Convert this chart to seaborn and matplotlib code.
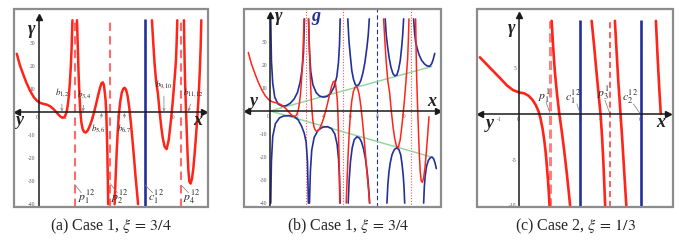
import numpy as np
import pandas as pd
import matplotlib
matplotlib.use('Agg')
import matplotlib.pyplot as plt
import seaborn as sns
from matplotlib.patches import Rectangle

# ---- gamma(x), case 1, xi = 3/4 (panels a and b), one list per branch ----
gam_x1 = [-1.63, -1.4, -1.12, -0.87, -0.62, -0.35, -0.1, 0.15, 0.4, 0.62, 0.87, 1.12,
          1.37, 1.62, 1.8, 1.95, 2.05, 2.12, 2.2, 2.28, 2.35, 2.42, 2.48, 2.54]
gam_y1 = [25.4, 20.5, 16.0, 12.3, 9.2, 6.5, 4.9, 4.0, 3.6, 3.3, 2.6, 1.4,
          -0.2, -1.8, -2.4, -2.0, -0.8, 0.5, 3.5, 7.5, 13, 20, 28, 40]
gam_x2 = [2.88, 2.95, 3.0, 3.05, 3.12, 3.2, 3.3, 3.42, 3.55, 3.7, 3.85, 4.0, 4.15,
          4.3, 4.45, 4.6, 4.72, 4.82, 4.9, 4.97, 5.03, 5.08, 5.12, 5.16, 5.19, 5.22]
gam_y2 = [40, 27, 17, 9.4, 1.5, -4, -7.2, -8.6, -8.8, -7.8, -5.8, -3.4, -0.3,
          3.2, 7, 10.5, 12.6, 13, 11.8, 8.5, 5, -1, -9, -18, -28, -40]
gam_x3 = [5.7, 5.78, 5.86, 5.94, 6.02, 6.12, 6.24, 6.36, 6.46, 6.56, 6.68, 6.8,
          6.92, 7.04, 7.16, 7.28, 7.4, 7.46]
gam_y3 = [-40, -28, -17, -8, -1, 4.5, 8.5, 10.3, 10.6, 9.8, 7, 2,
          -4.5, -12, -20, -28.5, -36, -40]
gam_x4 = [8.5, 8.6, 8.7, 8.82, 8.95, 9.07, 9.2, 9.32, 9.45, 9.6, 9.75, 9.85, 9.95,
          10.05, 10.15, 10.23, 10.3, 10.35, 10.4]
gam_y4 = [40, 30, 21, 13, 8, 0.5, -6.5, -11.5, -15, -16, -12.3, -7.5, -2,
          4, 11, 17, 22.5, 30, 40]
gam_x5 = [10.9, 10.94, 10.98, 11.04, 11.1, 11.17, 11.24, 11.31, 11.4, 11.5, 11.6,
          11.7, 11.8, 11.9, 12.0, 12.08, 12.15, 12.2]
gam_y5 = [40, 25, 14, 3, -7, -18, -26, -30.2, -31, -29, -24.5,
          -18, -10.5, -2.5, 7, 17, 28, 40]

# ---- g (upper) and -g (lower) branches, panel b ----
gu_x1 = [0.05, 0.1, 0.2, 0.35, 0.6, 0.9, 1.2, 1.5, 1.8, 2.05, 2.25, 2.4, 2.5, 2.58]
gu_y1 = [40, 22, 12, 6, 3, 2.1, 2.3, 3.3, 5.2, 8, 12.5, 18, 25, 40]
gu_x2 = [2.88, 2.95, 3.05, 3.2, 3.45, 3.7, 4.0, 4.3, 4.55, 4.8, 5.0, 5.12, 5.2, 5.25]
gu_y2 = [40, 26, 17, 11.5, 8, 6.5, 6, 6.4, 7.8, 10.5, 15, 21, 29, 40]
gu_x3 = [5.82, 5.9, 6.0, 6.12, 6.25, 6.38, 6.5, 6.65, 6.8, 6.95, 7.1, 7.25, 7.35, 7.43]
gu_y3 = [40, 31, 24.5, 17.5, 13.7, 11.5, 10.9, 11.5, 13.3, 16.5, 21, 27.5, 33, 40]
gu_x4 = [8.62, 8.7, 8.8, 8.92, 9.05, 9.2, 9.35, 9.5, 9.62, 9.75, 9.85, 9.93, 10.0]
gu_y4 = [40, 33, 28, 23, 19, 16.2, 15.2, 15.7, 18, 22, 27.5, 33, 40]
gu_x5 = [10.75, 10.82, 10.9, 11.0, 11.15, 11.35, 11.55, 11.75, 11.95, 12.1, 12.22, 12.33]
gu_y5 = [40, 34, 30, 27.5, 24.5, 22, 20.5, 19.6, 19.4, 20.5, 22.5, 25]

gl_x1 = [0.05, 0.1, 0.2, 0.4, 0.7, 1.0, 1.4, 1.8, 2.1, 2.35, 2.55, 2.7, 2.8, 2.87]
gl_y1 = [-40, -22, -11, -5.5, -3, -2.2, -2, -2.4, -3.8, -6.5, -9.5, -13.5, -22, -40]
gl_x2 = [2.95, 3.02, 3.12, 3.3, 3.6, 3.95, 4.3, 4.6, 4.85, 5.02, 5.13, 5.2, 5.25]
gl_y2 = [-40, -26, -17, -11.5, -8.3, -7, -6.8, -7.6, -10, -14.5, -21, -29, -40]
gl_x3 = [5.85, 5.92, 6.02, 6.15, 6.3, 6.5, 6.7, 6.85, 7.0, 7.15, 7.3, 7.4, 7.45]
gl_y3 = [-40, -30, -22, -16, -12.5, -11.2, -11.8, -13.5, -16.5, -21, -28, -35, -40]
gl_x4 = [8.75, 8.82, 8.9, 9.0, 9.13, 9.3, 9.48, 9.65, 9.78, 9.88, 9.97, 10.03, 10.08]
gl_y4 = [-40, -32, -26.5, -22.5, -19, -16.8, -16, -16.8, -19, -23, -28, -33, -40]
gl_x5 = [11.5, 11.55, 11.62, 11.72, 11.85, 12.0, 12.13, 12.25, 12.35, 12.45]
gl_y5 = [-40, -33, -28, -24, -21.5, -20.3, -20, -20.8, -22.5, -25]

# tangent lines through the origin
tan_x = [0, 12.1]
tan_up = [0, 19.3]
tan_lo = [0, -20.0]

# ---- gamma(x), case 2, xi = 1/3 (panel c) ----
cg_x1 = [-1.95, -1.6, -1.25, -0.9, -0.6, -0.3, 0.0, 0.25, 0.45, 0.65, 0.82, 0.95,
         1.05, 1.15, 1.23, 1.3, 1.36, 1.42, 1.47, 1.5]
cg_y1 = [6.2, 5.4, 4.6, 3.8, 3.1, 2.6, 2.35, 2.25, 2.0, 1.55, 0.95, 0.3,
         -0.5, -1.6, -2.8, -4.1, -5.6, -7.3, -8.9, -10.2]
cg_x2 = [1.6, 1.68, 1.76, 1.87, 1.98, 2.1, 2.22, 2.34, 2.45, 2.52]
cg_y2 = [10.2, 7.2, 4.6, 2.1, 0, -1.9, -4.0, -6.3, -8.6, -10.2]
cg_x3 = [3.58, 3.7, 3.82, 3.93, 4.02, 4.1, 4.16, 4.21, 4.25]
cg_y3 = [10.2, 7.5, 4.6, 2.0, 0, -2.7, -5.3, -7.9, -10.2]
cg_x4 = [4.73, 4.82, 4.9, 5.01, 5.1, 5.19, 5.3]
cg_y4 = [10.2, 6.6, 3.5, 0, -3.0, -6.3, -10.2]
cg_x5 = [6.76, 6.84, 6.92, 7.0]
cg_y5 = [10.2, 6.4, 3.0, 0]

# poles (dashed) and walls (blue)
poles_a = [2.7, 5.37, 10.69]
walls_a = [8.0]
poles_b = [2.7, 5.43, 10.58]
walls_b = [8.0]
poles_c = [1.51, 4.49]
walls_c = [3.0, 6.0]

xticks_ab = [0, 2, 4, 6, 8, 10]
yticks_ab = [30, 20, 10, -10, -20, -30, -40]
xticks_c = [-1, 0, 1, 2, 3, 4, 5, 6]
yticks_c = [5, -5, -10]

captions = ['(a) Case 1, $\\xi\\,=\\,3/4$', '(b) Case 1, $\\xi\\,=\\,3/4$',
            '(c) Case 2, $\\xi\\,=\\,1/3$']

RED = '#ff2418'
BLUE = '#23309a'
GREEN = '#8fd49a'
GREY = '#7a7a7a'
SERIF = ['Liberation Serif', 'DejaVu Serif']


def branches(xs, ys):
    return pd.concat([pd.DataFrame({'x': x, 'y': y, 'seg': i})
                      for i, (x, y) in enumerate(zip(xs, ys))], ignore_index=True)


def draw(ax, df, color, lw):
    sns.lineplot(data=df, x='x', y='y', units='seg', estimator=None,
                 sort=False, color=color, lw=lw, ax=ax, legend=False)
    ax.set(xlabel='', ylabel='')


def setup(ax, xlim, ylim, xticks, yticks, x_ends, y_top):
    ax.set_xlim(xlim)
    ax.set_ylim(ylim)
    for s in ['top', 'right']:
        ax.spines[s].set_visible(False)
    for s in ['left', 'bottom']:
        ax.spines[s].set_position(('data', 0))
        ax.spines[s].set_color('#1a1a1a')
        ax.spines[s].set_linewidth(1.1)
        ax.spines[s].set_zorder(4)
    ax.spines['bottom'].set_bounds(*x_ends)
    ax.spines['left'].set_bounds(ylim[0], y_top)
    ax.set_xticks(xticks, [str(t) for t in xticks])
    ax.set_yticks(yticks, [str(t) for t in yticks])
    for t in ax.get_xticklabels():
        if t.get_text() == '0':
            t.set_horizontalalignment('right')
    ax.tick_params(labelsize=4, length=2, width=0.5, pad=1.2, direction='inout',
                   colors='#555555')
    kw = dict(color='#1a1a1a', ms=5, clip_on=False, zorder=5, ls='none')
    ax.plot([x_ends[1]], [0], marker='>', **kw)
    ax.plot([x_ends[0]], [0], marker='<', **kw)
    ax.plot([0], [y_top], marker='^', **kw)
    ax.add_patch(Rectangle((0, 0), 1, 1, transform=ax.transAxes, fill=False,
                           ec='#8c8c8c', lw=1.6, clip_on=False, zorder=6))


def axis_letters(ax, gam, ylab, xlab):
    kw = dict(fontsize=13, style='italic', weight='bold', ha='center', va='center',
              color='#222222', family=SERIF)
    ax.text(*gam, '\u03b3', **kw)
    ax.text(*ylab, 'y', **kw)
    ax.text(*xlab, 'x', **kw)


def b_label(ax, txt, tx, ty, px, py):
    ax.annotate(txt, xy=(px, py), xytext=(tx, ty), fontsize=6.5, ha='center', va='center',
                arrowprops=dict(arrowstyle='->', color=GREY, lw=0.5, shrinkA=1, shrinkB=0,
                                mutation_scale=4))


def leader(ax, txt, tx, ty, x0, y0, x1, y1, size=8.5):
    ax.plot([x0, x1], [y0, y1], color=GREY, lw=0.5)
    ax.text(tx, ty, txt, fontsize=size, ha='center', va='center')


sns.set_style('white')
plt.rcParams['font.family'] = SERIF
plt.rcParams['mathtext.fontset'] = 'stix'

fig = plt.figure(figsize=(6.79, 2.41), dpi=100)
ax_a = fig.add_axes([0.0206, 0.1411, 0.2857, 0.8216])
ax_b = fig.add_axes([0.3594, 0.1411, 0.2901, 0.8216])
ax_c = fig.add_axes([0.7020, 0.1411, 0.2896, 0.8216])

gam_df = branches([gam_x1, gam_x2, gam_x3, gam_x4, gam_x5],
                  [gam_y1, gam_y2, gam_y3, gam_y4, gam_y5])

# ---------------- (a) ----------------
ax = ax_a
ax.vlines(poles_a, -41.2, 40.5, colors='#ff6b6b', lw=1.5, linestyles=(0, (4, 2.5)))
ax.vlines(walls_a, -41.2, 40.5, colors=BLUE, lw=1.9)
draw(ax, gam_df, RED, 1.8)
setup(ax, (-1.84, 12.7), (-41.2, 44.9), xticks_ab, yticks_ab, (-1.63, 12.4), 41.4)
axis_letters(ax, (-0.5, 35.8), (-1.38, -3.8), (11.9, -3.8))
b_label(ax, '$b_{1,\\!2}$', 1.75, 8.3, 1.75, 0.4)
b_label(ax, '$b_{3,\\!4}$', 3.45, 7.8, 3.33, 0.4)
b_label(ax, '$b_{5,\\!6}$', 4.5, -7.3, 4.75, -0.4)
b_label(ax, '$b_{6,\\!7}$', 6.44, -7.2, 6.44, -0.4)
b_label(ax, '$b_{9,\\!10}$', 9.4, 11.8, 9.4, 0.4)
b_label(ax, '$b_{11,\\!12}$', 11.6, 8.3, 11.24, 0.4)
leader(ax, '$p_1^{12}$', 3.6, -37.0, 2.7, -31.3, 3.2, -35.0)
leader(ax, '$p_2^{12}$', 6.1, -37.0, 5.37, -31.0, 5.9, -35.0)
leader(ax, '$c_1^{12}$', 8.8, -37.0, 8.0, -31.7, 8.55, -35.0)
leader(ax, '$p_4^{12}$', 11.45, -37.0, 10.69, -31.7, 11.24, -35.0)

# ---------------- (b) ----------------
ax = ax_b
ax.vlines(poles_b, -41.7, 44.3, colors='#ff5050', lw=0.8, linestyles=(0, (1, 1.5)))
ax.vlines(walls_b, -41.7, 44.3, colors=BLUE, lw=0.8, linestyles=(0, (4, 2.5)))
draw(ax, branches([tan_x, tan_x], [tan_up, tan_lo]), GREEN, 1.0)
draw(ax, branches([gu_x1, gu_x2, gu_x3, gu_x4, gu_x5, gl_x1, gl_x2, gl_x3, gl_x4, gl_x5],
                  [gu_y1, gu_y2, gu_y3, gu_y4, gu_y5, gl_y1, gl_y2, gl_y3, gl_y4, gl_y5]),
     BLUE, 1.2)
draw(ax, gam_df[gam_df['x'] <= 11.92], RED, 1.1)
setup(ax, (-1.95, 12.8), (-41.7, 44.3), xticks_ab, yticks_ab, (-1.75, 12.55), 41.5)
axis_letters(ax, (0.62, 41.0), (-1.25, 4.2), (12.1, 4.0))
ax.text(3.45, 41.0, 'g', fontsize=13, style='italic', weight='bold', color=BLUE,
        ha='center', va='center', family=SERIF)

# ---------------- (c) ----------------
ax = ax_c
ax.vlines(poles_c[:1], -10.2, 10.2, colors='#ff8080', lw=2.2, linestyles=(0, (3, 1.5)))
ax.vlines(poles_c[1:], -10.2, 10.2, colors='#ff3030', lw=1.1, linestyles=(0, (4, 2.5)))
ax.vlines(walls_c, -10.2, 10.3, colors=BLUE, lw=1.9)
draw(ax, branches([cg_x1, cg_x2, cg_x3, cg_x4, cg_x5],
                  [cg_y1, cg_y2, cg_y3, cg_y4, cg_y5]), RED, 1.9)
setup(ax, (-2.11, 7.62), (-10.2, 11.5), xticks_c, yticks_c, (-1.95, 7.35), 10.8)
axis_letters(ax, (-0.38, 9.4), (-1.45, -1.0), (7.0, -0.9))
leader(ax, '$p_1^{1}$', 1.22, 2.0, 1.32, 1.3, 1.51, 0.15)
leader(ax, '$c_1^{12}$', 2.67, 1.85, 2.85, 1.1, 3.0, 0.1)
leader(ax, '$p_3^{1}$', 4.15, 2.3, 4.24, 1.5, 4.47, 0.1)
leader(ax, '$c_2^{12}$', 5.47, 1.85, 5.64, 1.1, 5.96, 0.1)

for cx, cap in zip([0.1635, 0.513, 0.8468], captions):
    fig.text(cx, 0.062, cap, ha='center', va='center', fontsize=11.5)

fig.savefig('out.png', dpi=100, facecolor='white')
